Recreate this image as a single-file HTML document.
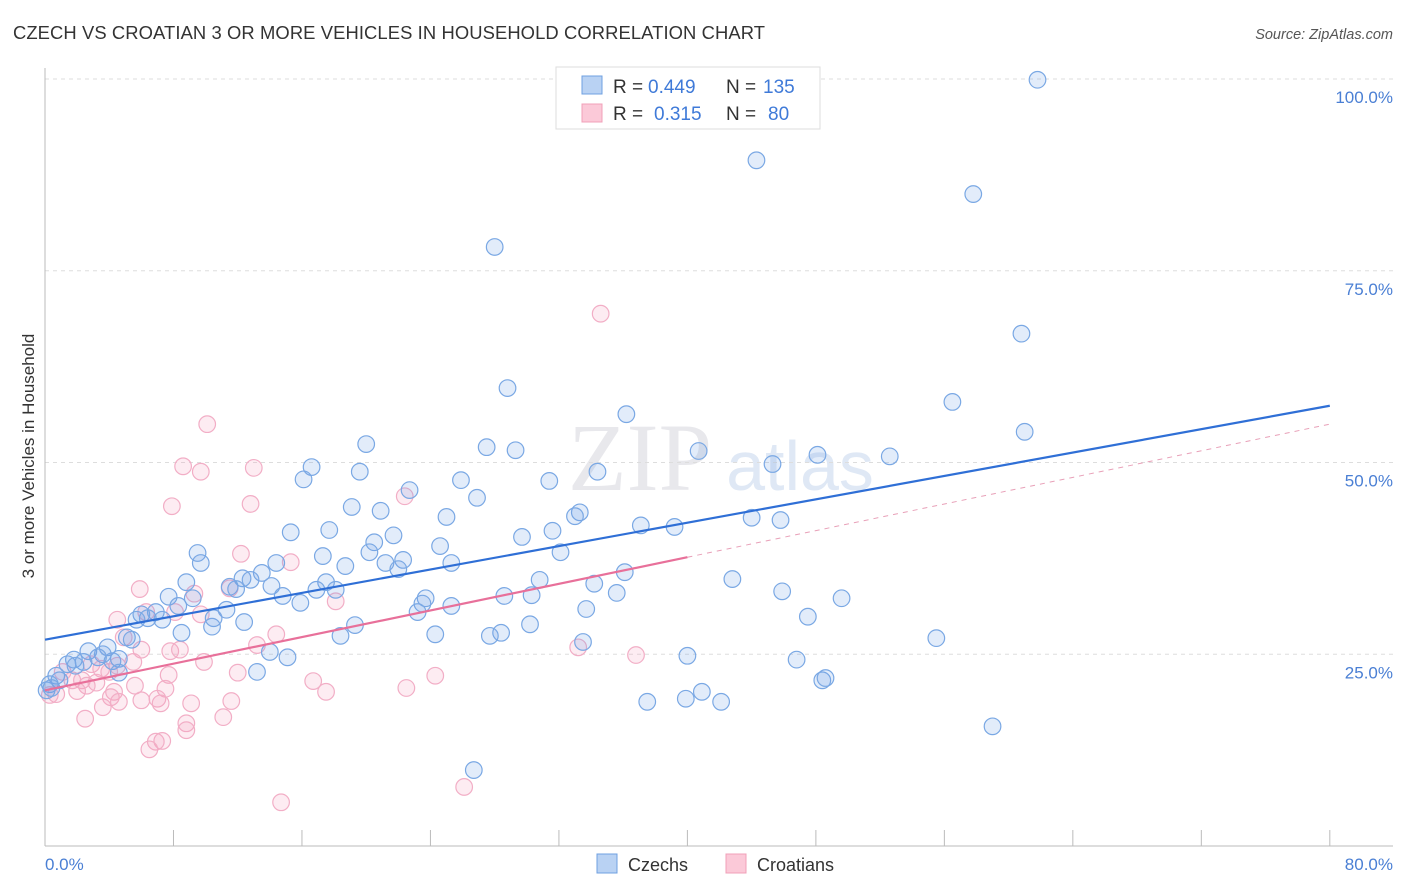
<!DOCTYPE html>
<html><head><meta charset="utf-8"><style>
body{margin:0;background:#fff;font-family:"Liberation Sans",sans-serif}
svg{display:block}
</style></head><body>
<svg id="chart" width="1406" height="892">
<text x="13" y="39" font-size="18.4" fill="#333" textLength="752">CZECH VS CROATIAN 3 OR MORE VEHICLES IN HOUSEHOLD CORRELATION CHART</text>
<text x="1393" y="39" font-size="14.5" fill="#555" font-style="italic" text-anchor="end">Source: ZipAtlas.com</text>
<text x="640" y="490" font-size="96" fill="#e8e8ec" font-family="Liberation Serif" text-anchor="middle">ZIP</text>
<text x="800" y="490" font-size="70" fill="#dfe8f5" text-anchor="middle">atlas</text>
<g id="grid"></g>
<g id="axes"></g>
<g id="pts"></g>
<g id="lines"></g>
<text transform="translate(34,456) rotate(-90)" font-size="17" fill="#333" text-anchor="middle">3 or more Vehicles in Household</text>
<text x="45" y="870" font-size="17" fill="#4a7fd4">0.0%</text>
<text x="1393" y="870" font-size="17" fill="#4a7fd4" text-anchor="end">80.0%</text>
<g>
<rect x="556" y="67" width="264" height="62" fill="#fff" stroke="#ddd"/>
<rect x="582" y="76" width="20" height="18" fill="#b9d2f3" stroke="#6fa0e0"/>
<rect x="582" y="104" width="20" height="18" fill="#fbc9d8" stroke="#f0a0b8"/>
<text y="93" font-size="19" fill="#333"><tspan x="613">R = </tspan><tspan x="648" fill="#3f7ad8">0.449</tspan><tspan x="726">N = </tspan><tspan x="763" fill="#3f7ad8">135</tspan></text>
<text y="120" font-size="19" fill="#333"><tspan x="613">R = </tspan><tspan x="654" fill="#3f7ad8">0.315</tspan><tspan x="726">N = </tspan><tspan x="768" fill="#3f7ad8">80</tspan></text>
</g>
<g>
<rect x="597" y="854" width="20" height="19" fill="#b9d2f3" stroke="#6fa0e0"/>
<text x="628" y="871" font-size="18" fill="#333">Czechs</text>
<rect x="726" y="854" width="20" height="19" fill="#fbc9d8" stroke="#f0a0b8"/>
<text x="757" y="871" font-size="18" fill="#333">Croatians</text>
</g>
</svg>
<script>
const yTicks=[25,50,75,100];
const xTicks=[0,8,16,24,32,40,48,56,64,72,80];
const czechX=[61.8,44.3,57.8,28.0,60.8,28.8,56.5,36.2,61.0,20.0,27.5,29.3,40.7,48.1,52.6,45.3,16.6,19.6,34.4,16.1,25.9,31.4,22.7,26.9,19.1,20.9,33.3,25.0,33.0,44.0,45.8,37.1,39.2,17.7,15.3,31.6,29.7,21.7,20.5,24.6,20.2,32.1,9.5,17.3,22.3,21.2,25.3,9.7,14.4,18.7,22.0,13.5,36.1,12.3,12.8,42.8,8.8,17.5,30.8,34.2,11.5,11.9,14.1,16.9,18.1,14.8,35.6,28.6,30.3,45.9,49.6,7.7,9.2,23.7,15.9,8.3,25.3,23.5,23.2,33.7,11.3,6.0,6.9,6.4,7.3,10.5,47.5,12.4,5.7,30.2,19.3,10.4,8.5,18.4,24.3,28.4,27.7,55.5,5.1,33.5,5.4,3.9,2.7,14.0,3.6,15.1,40.0,3.3,1.8,4.6,2.4,4.2,46.8,1.4,1.9,13.2,4.6,0.7,0.9,0.3,0.1,0.4,48.4,48.6,40.9,39.9,37.5,42.1,59.0,26.7];
const czechY=[99.9,89.4,85.0,78.1,66.8,59.7,57.9,56.3,54.0,52.4,52.0,51.6,51.5,51.0,50.8,49.8,49.4,48.8,48.8,47.8,47.7,47.6,46.4,45.4,44.2,43.7,43.5,42.9,43.0,42.8,42.5,41.8,41.6,41.2,40.9,41.1,40.3,40.5,39.6,39.1,38.3,38.3,38.2,37.8,37.3,36.9,36.9,36.9,36.9,36.5,36.1,35.6,35.7,34.9,34.7,34.8,34.4,34.4,34.7,34.2,33.8,33.5,33.9,33.4,33.4,32.6,33.0,32.6,32.7,33.2,32.3,32.5,32.3,32.3,31.7,31.3,31.3,31.6,30.5,30.9,30.8,30.2,30.5,29.7,29.5,29.7,29.9,29.2,29.5,28.9,28.8,28.6,27.8,27.4,27.6,27.8,27.4,27.1,27.2,26.6,26.9,25.9,25.4,25.3,25.0,24.6,24.8,24.6,24.3,24.4,24.0,24.1,24.3,23.7,23.5,22.7,22.6,22.2,21.6,21.1,20.3,20.6,21.6,21.9,20.1,19.2,18.8,18.8,15.6,9.9];
const croatX=[34.6,10.1,8.6,13.0,9.7,22.4,7.9,12.8,12.2,15.3,5.9,11.5,9.3,18.1,8.1,9.7,4.5,6.3,14.4,4.9,13.2,33.2,6.0,7.8,8.4,36.8,9.9,5.5,2.9,4.5,3.5,1.1,12.0,4.0,7.7,24.3,1.7,2.3,3.2,16.7,2.6,5.6,22.5,7.5,2.0,4.3,17.5,0.7,0.3,4.1,11.6,7.0,4.6,6.0,7.2,9.1,3.6,11.1,2.5,8.8,8.8,7.3,6.9,6.5,14.7,26.1];
const croatY=[69.4,55.0,49.5,49.3,48.8,45.6,44.3,44.6,38.1,37.0,33.5,33.6,32.9,31.9,30.5,30.2,29.5,30.5,27.6,27.2,26.2,25.9,25.6,25.4,25.6,24.9,24.0,24.0,23.7,23.5,23.1,22.7,22.6,22.7,22.3,22.2,21.6,21.6,21.3,21.5,20.9,20.9,20.6,20.5,20.2,20.1,20.1,19.8,19.7,19.4,18.9,19.2,18.8,19.0,18.6,18.6,18.1,16.8,16.6,16.0,15.1,13.7,13.6,12.6,5.7,7.7];
const czechTrend=[26.9,57.4];      // y at x=0 and x=80
const croatTrend=[20.3,55.0];      // y at x=0 and x=80
const croatSolidEnd=40;
const X=v=>45+v*16.06, Y=v=>846-v*7.67;
const NS="http://www.w3.org/2000/svg";
function mk(t,a,p){const e=document.createElementNS(NS,t);for(const k in a)e.setAttribute(k,a[k]);p.appendChild(e);return e;}
const grid=document.getElementById('grid'),axes=document.getElementById('axes'),pts=document.getElementById('pts'),lines=document.getElementById('lines');
yTicks.forEach(v=>{
 const l=mk('line',{x1:45,x2:1393,y1:Y(v),y2:Y(v),stroke:'#ddd','stroke-dasharray':'4,4'},grid);
 
 
 const t=mk('text',{x:1393,y:Y(v)+24,'font-size':17,fill:'#4a7fd4','text-anchor':'end'},grid);
 t.textContent=v.toFixed(1)+'%';
 
 
});
const ax=mk('line',{x1:45,x2:1393,y1:846,y2:846,stroke:'#bbb'},axes);


const ay=mk('line',{x1:45,x2:45,y1:68,y2:846,stroke:'#bbb'},axes);


xTicks.forEach(v=>{
 const l=mk('line',{x1:X(v),x2:X(v),y1:830,y2:846,stroke:'#bbb'},axes);
 
 
});
croatX.forEach((x,i)=>{
 const c=mk('circle',{cx:X(x),cy:Y(croatY[i]),r:8.3,fill:'rgba(245,160,190,0.2)',stroke:'#f2aec6','stroke-width':1.2},pts);
 
 
});
czechX.forEach((x,i)=>{
 const c=mk('circle',{cx:X(x),cy:Y(czechY[i]),r:8.3,fill:'rgba(110,160,230,0.2)',stroke:'#7aa8e4','stroke-width':1.2},pts);
 
 
});
const bl=mk('line',{x1:X(0),y1:Y(czechTrend[0]),x2:X(80),y2:Y(czechTrend[1]),stroke:'#2f6fd6','stroke-width':2.2},lines);


const cy=v=>croatTrend[0]+(croatTrend[1]-croatTrend[0])*v/80;
const pl=mk('line',{x1:X(0),y1:Y(cy(0)),x2:X(croatSolidEnd),y2:Y(cy(croatSolidEnd)),stroke:'#e8709a','stroke-width':2.2},lines);


const pd=mk('line',{x1:X(croatSolidEnd),y1:Y(cy(croatSolidEnd)),x2:X(80),y2:Y(cy(80)),stroke:'#e8a0b8','stroke-width':1,'stroke-dasharray':'5,5'},lines);


</script>
</body></html>
